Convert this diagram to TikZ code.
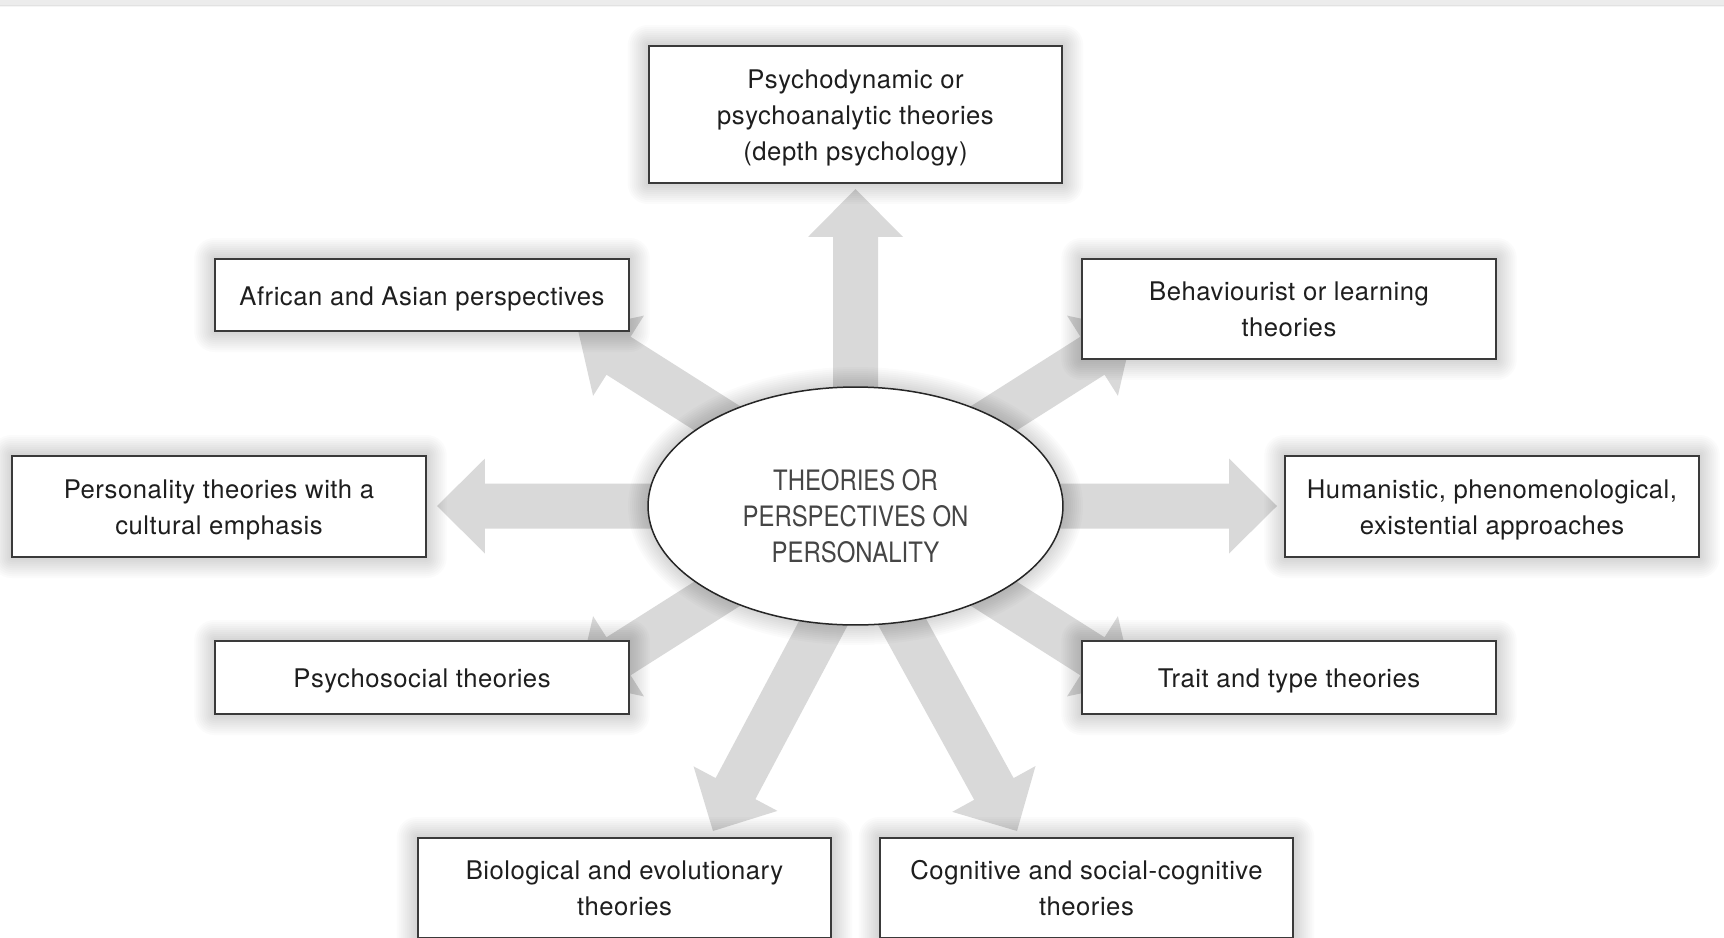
\documentclass[tikz,border=0pt]{standalone}
\usepackage{fontspec}
\setmainfont{TeX Gyre Heros}[LetterSpace=2]
\newfontfamily\hubfont{TeX Gyre Heros}[FakeStretch=0.85]
\usetikzlibrary{calc,shapes.geometric}

\pgfdeclarelayer{bg}
\pgfdeclarelayer{halo}
\pgfsetlayers{bg,halo,main}

\definecolor{arrowgray}{HTML}{D9D9D9}
\definecolor{frame}{HTML}{3A3A3A}
\definecolor{ink}{HTML}{1E1E1E}
\definecolor{inkhub}{HTML}{454545}
\definecolor{strip}{HTML}{ECECEC}

% strut that lowers the text block a little inside its box
\newcommand\tstrut{\rule{0pt}{14.8pt}}

\tikzset{
  theory/.style={draw=frame, line width=0.04cm, fill=white, align=center,
    inner sep=0pt, minimum width=8.27cm, text=ink,
    font=\fontsize{14.6pt}{20.5pt}\selectfont},
  hub/.style={ellipse, draw=black!85, line width=0.03cm, fill=white,
    inner sep=0pt, minimum width=8.3cm, minimum height=4.76cm},
  hubtext/.style={align=center, inner sep=0pt, text=inkhub,
    font=\hubfont\fontsize{16pt}{20.5pt}\selectfont},
  blockarrow/.style={fill=arrowgray},
}

% wide block arrow from #1 to the tip #2
\newcommand\widearrow[2]{%
  \coordinate (wa-base) at ($(#2)!0.96cm!(#1)$);
  \fill[blockarrow]
    ($(#1)!0.45cm!90:(#2)$) -- ($(wa-base)!0.45cm!90:(#2)$) --
    ($(wa-base)!0.95cm!90:(#2)$) -- (#2) --
    ($(wa-base)!0.95cm!-90:(#2)$) -- ($(wa-base)!0.45cm!-90:(#2)$) --
    ($(#1)!0.45cm!-90:(#2)$) -- cycle;
}

% soft halo round a rectangular node
\newcommand\boxhalo[1]{%
  \foreach \k in {1,...,10}{
    \pgfmathsetlengthmacro\rr{\k*0.04cm}
    \fill[black, opacity=0.014, rounded corners=\rr]
      ($(#1.north west)+(-2*\k,-2*\k)$) rectangle ($(#1.south east)+(2*\k,2*\k)$);
  }%
}

\begin{document}
\begin{tikzpicture}[x=0.02cm, y=-0.02cm]
\useasboundingbox (0,0) rectangle (1724,937);

% central ellipse and the theory boxes
\node[hub] (E) at (855.5,506) {};
\node[hubtext] (Etext) at (855.5,516) {THEORIES OR\\PERSPECTIVES ON\\PERSONALITY};
\node[theory, minimum height=2.74cm] (psy) at (855.5,114.5)
  {\tstrut Psychodynamic or\\psychoanalytic theories\\(depth psychology)};
\node[theory, minimum height=1.44cm] (afr) at (422,295) {\tstrut African and Asian perspectives};
\node[theory, minimum height=2.0cm] (beh) at (1289,309) {Behaviourist or learning\\theories};
\node[theory, minimum height=2.02cm] (cul) at (219,506.5) {\tstrut Personality theories with a\\cultural emphasis};
\node[theory, minimum height=2.02cm] (hum) at (1492,506.5) {\tstrut Humanistic, phenomenological,\\existential approaches};
\node[theory, minimum height=1.46cm] (soc) at (422,677.5) {\tstrut Psychosocial theories};
\node[theory, minimum height=1.46cm] (tra) at (1289,677.5) {\tstrut Trait and type theories};
\node[theory, minimum height=2.0cm] (bio) at (624.5,888) {Biological and evolutionary\\theories};
\node[theory, minimum height=2.0cm] (cog) at (1086.5,888) {Cognitive and social-cognitive\\theories};

% arrow tips and the two offset starts
\coordinate (tU)  at (855.5,189);
\coordinate (tUL) at (578,330);
\coordinate (tUR) at (1133,330);
\coordinate (tL)  at (437,506);
\coordinate (tR)  at (1277,506);
\coordinate (tDL) at (578,682);
\coordinate (tDR) at (1133,682);
\coordinate (sBio) at (867.5,540);
\coordinate (tBio) at (713,831);
\coordinate (sCog) at (857,540);
\coordinate (tCog) at (1017,831);

\begin{pgfonlayer}{bg}
  \fill[white] (0,0) rectangle (1724,937);
  \fill[strip] (0,0) rectangle (1724,6);
  \fill[black, opacity=0.04] (0,5) rectangle (1724,7);
  \widearrow{E.center}{tU}
  \widearrow{E.center}{tUL}
  \widearrow{E.center}{tUR}
  \widearrow{E.center}{tL}
  \widearrow{E.center}{tR}
  \widearrow{E.center}{tDL}
  \widearrow{E.center}{tDR}
  \widearrow{sBio}{tBio}
  \widearrow{sCog}{tCog}
\end{pgfonlayer}

\begin{pgfonlayer}{halo}
  \foreach \n in {psy,afr,beh,cul,hum,soc,tra,bio,cog}{\boxhalo{\n}}
  \foreach \k in {1,...,10}{
    \fill[black, opacity=0.014] (E.center) ellipse
      [x radius={4.15cm+\k*0.04cm}, y radius={2.38cm+\k*0.04cm}];
  }
\end{pgfonlayer}
\end{tikzpicture}
\end{document}
